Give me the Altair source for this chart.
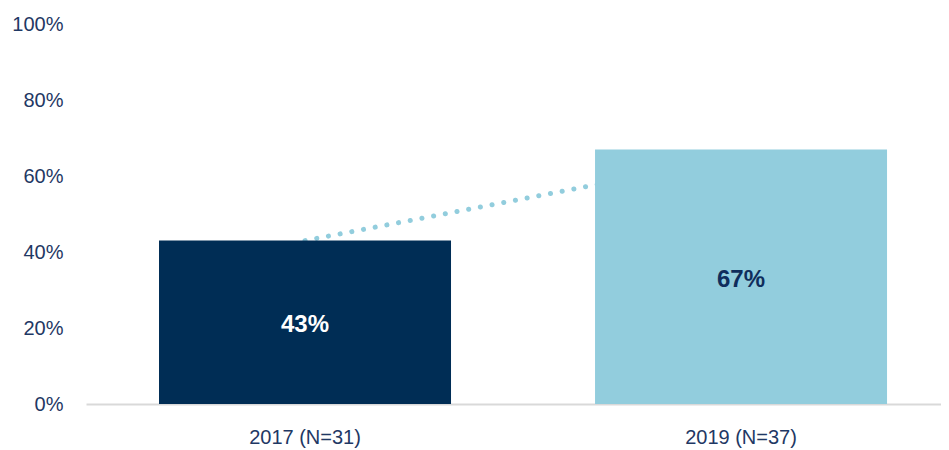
import altair as alt
import pandas as pd

categories = ["2017 (N=31)", "2019 (N=37)"]
values = [43, 67]
line_values = [43, 65]  # dotted connector (ends hidden behind the 2019 bar)
bar_colors = ["#002D55", "#92CDDD"]
label_colors = ["#FFFFFF", "#0F2D5C"]
y_ticks = [0, 0.2, 0.4, 0.6, 0.8, 1.0]

FONT = "Liberation Sans"
NAVY = "#1F3864"

df = pd.DataFrame({
    "cat": categories,
    "val": [v / 100 for v in values],
    "line_val": [v / 100 for v in line_values],
    "bar_color": bar_colors,
    "label_color": label_colors,
    "label": [f"{v}%" for v in values],
})
df["mid"] = df["val"] / 2

x = alt.X(
    "cat:N", sort=categories, title=None,
    scale=alt.Scale(paddingInner=0.3303, paddingOuter=0.1456, align=0.575),
    axis=alt.Axis(labelAngle=0, ticks=False, domainColor="#D9D9D9", domainWidth=2,
                  labelFont=FONT, labelFontSize=20, labelColor=NAVY, labelPadding=23),
)
y_axis = alt.Axis(format=".0%", values=y_ticks, grid=False, domain=False, ticks=False,
                  labelPadding=23, labelFont=FONT, labelFontSize=20, labelColor=NAVY)
y_scale = alt.Scale(domain=[0, 1], nice=False)

base = alt.Chart(df)

line = base.mark_line(color="#92CDDD", strokeWidth=5, strokeDash=[0.1, 11.8],
                      strokeCap="round").encode(
    x=x, y=alt.Y("line_val:Q", title=None, scale=y_scale, axis=y_axis))

bars = base.mark_bar().encode(
    x=x, y=alt.Y("val:Q", title=None, scale=y_scale, axis=y_axis),
    color=alt.Color("bar_color:N", scale=None),
)

labels = base.mark_text(font=FONT, fontSize=24, fontWeight="bold", baseline="middle",
                        dy=3).encode(
    x=x,
    y=alt.Y("mid:Q"),
    text="label:N",
    color=alt.Color("label_color:N", scale=None),
)

chart = alt.layer(line, bars, labels).properties(
    width=855, height=380,
    autosize="none",
    padding={"left": 78, "top": 16, "right": 0, "bottom": 44},
).configure_view(stroke=None)

chart.save("out.html", embed_options={"renderer": "svg", "actions": False})
